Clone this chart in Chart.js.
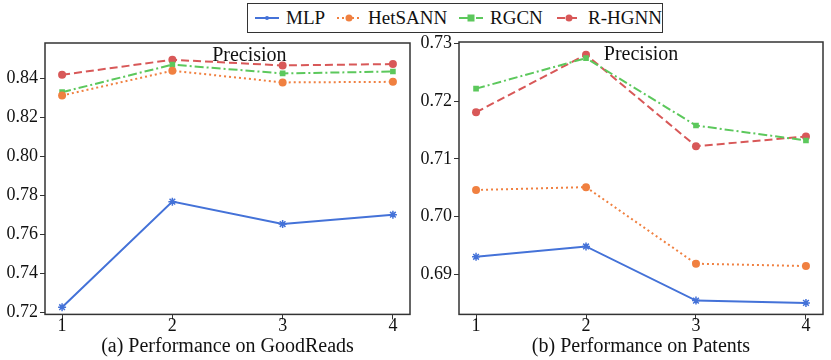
<!DOCTYPE html>
<html>
<head>
<meta charset="utf-8">
<script src="https://cdn.jsdelivr.net/npm/chart.js@4.4.1/dist/chart.umd.min.js"></script>
<style>
  body { margin: 0; background: #fff; width: 831px; height: 360px; position: relative; overflow: hidden; font-family: 'Liberation Serif', 'Times New Roman', serif; }
  #legend { position: absolute; left: 247px; top: 3px; width: 416px; height: 30px; border: 1px solid #333; box-sizing: border-box; font-family: 'Liberation Serif', 'Times New Roman', serif; font-size: 19px; color: #111; white-space: nowrap; }
  #legend .item { position: absolute; top: 0; height: 28px; display: flex; align-items: center; }
  #legend svg { margin-right: 7px; }
  .box { position: absolute; top: 0; height: 360px; }
</style>
</head>
<body>
<div id="legend"></div>
<div class="box" style="left:0;width:416px"><canvas id="c1"></canvas></div>
<div class="box" style="left:414px;width:417px"><canvas id="c2"></canvas></div>
<script>
// series names and styles
const seriesNames = ['MLP', 'HetSANN', 'RGCN', 'R-HGNN'];
const colors = ['#4472d8', '#f08040', '#5cc85c', '#d85858'];
const dashes = [[], [2, 3], [9, 3, 2, 3], [8, 4]];
const markers = ['star', 'circle', 'rect', 'circle'];

const layers = [1, 2, 3, 4];

// (a) GoodReads
const grMLP = [0.7226, 0.7767, 0.7652, 0.7700];
const grHetSANN = [0.8311, 0.8438, 0.8378, 0.8381];
const grRGCN = [0.8328, 0.8469, 0.8424, 0.8434];
const grRHGNN = [0.8417, 0.8494, 0.8465, 0.8472];
const grTicks = [0.72, 0.74, 0.76, 0.78, 0.80, 0.82, 0.84];

// (b) Patents
const ptMLP = [0.6930, 0.6948, 0.6854, 0.6850];
const ptHetSANN = [0.7046, 0.7051, 0.6918, 0.6914];
const ptRGCN = [0.7222, 0.7275, 0.7158, 0.7132];
const ptRHGNN = [0.7181, 0.7281, 0.7122, 0.7139];
const ptTicks = [0.69, 0.70, 0.71, 0.72, 0.73];

Chart.defaults.font.family = "'Liberation Serif', 'Times New Roman', serif";

// legend (html, spans both panels)
const lg = document.getElementById('legend');
const itemLeft = [7, 89, 211, 309];
seriesNames.forEach((name, i) => {
  const d = document.createElement('div');
  d.className = 'item';
  d.style.left = itemLeft[i] + 'px';
  const da = dashes[i].length ? `stroke-dasharray="${dashes[i].join(' ')}"` : '';
  let mk = '';
  if (markers[i] === 'circle') mk = `<circle cx="12" cy="8" r="3.5" fill="${colors[i]}"/>`;
  else if (markers[i] === 'rect') mk = `<rect x="8.5" y="4.5" width="7" height="7" fill="${colors[i]}"/>`;
  else mk = `<circle cx="12" cy="8" r="2" fill="${colors[i]}"/>`;
  d.innerHTML = `<svg width="24" height="16"><line x1="0" y1="8" x2="24" y2="8" stroke="${colors[i]}" stroke-width="2" ${da}/>${mk}</svg><span>${name}</span>`;
  lg.appendChild(d);
});

const frame = {
  id: 'frame',
  afterDraw(chart, args, opts) {
    const { ctx, chartArea: a } = chart;
    ctx.save();
    ctx.strokeStyle = '#333';
    ctx.lineWidth = 1.5;
    ctx.strokeRect(a.left, a.top, a.right - a.left, a.bottom - a.top);
    ctx.fillStyle = '#111';
    ctx.font = "20px 'Liberation Serif', 'Times New Roman', serif";
    ctx.textAlign = 'center';
    ctx.textBaseline = 'top';
    ctx.fillText('Precision', a.left + (a.right - a.left) * opts.titleX, a.top + 3);
    ctx.restore();
  }
};

function makeChart(id, data, ticks, ymin, ymax, xlabel, pad, titleX) {
  const datasets = data.map((vals, i) => ({
    label: seriesNames[i],
    data: vals.map((v, k) => ({ x: layers[k], y: v })),
    borderColor: colors[i],
    backgroundColor: colors[i],
    borderWidth: 2,
    borderDash: dashes[i],
    pointStyle: markers[i],
    pointRadius: 4,
    pointBorderWidth: markers[i] === 'star' ? 1.5 : 0,
    fill: false,
    tension: 0
  }));
  return new Chart(document.getElementById(id), {
    type: 'line',
    data: { datasets },
    plugins: [frame],
    options: {
      responsive: true,
      maintainAspectRatio: false,
      animation: false,
      layout: { padding: pad },
      plugins: { legend: { display: false }, tooltip: { enabled: false }, frame: { titleX } },
      scales: {
        x: {
          type: 'linear', min: 0.845, max: 4.155,
          afterBuildTicks: ax => { ax.ticks = layers.map(v => ({ value: v })); },
          grid: { drawOnChartArea: false, drawTicks: true, tickLength: 5, color: '#333' },
          border: { display: false },
          ticks: { color: '#111', font: { size: 18 }, padding: -4 },
          title: { display: true, text: xlabel, color: '#111', font: { size: 20 }, padding: { top: 2, bottom: 0 } }
        },
        y: {
          min: ymin, max: ymax,
          afterBuildTicks: ax => { ax.ticks = ticks.map(v => ({ value: v })); },
          afterFit: ax => { ax.width = 40; },
          grid: { drawOnChartArea: false, drawTicks: true, tickLength: 5, color: '#333' },
          border: { display: false },
          ticks: { color: '#111', font: { size: 18 }, padding: 2, callback: v => v.toFixed(2) }
        }
      }
    }
  });
}

makeChart('c1', [grMLP, grHetSANN, grRGCN, grRHGNN], grTicks, 0.7189, 0.8580,
  '(a) Performance on GoodReads', { left: 5, right: 6, top: 43, bottom: 1 }, 0.56);
makeChart('c2', [ptMLP, ptHetSANN, ptRGCN, ptRHGNN], ptTicks, 0.6830, 0.7303,
  '(b) Performance on Patents', { left: 5, right: 8, top: 42, bottom: 1 }, 0.5);
</script>
</body>
</html>
